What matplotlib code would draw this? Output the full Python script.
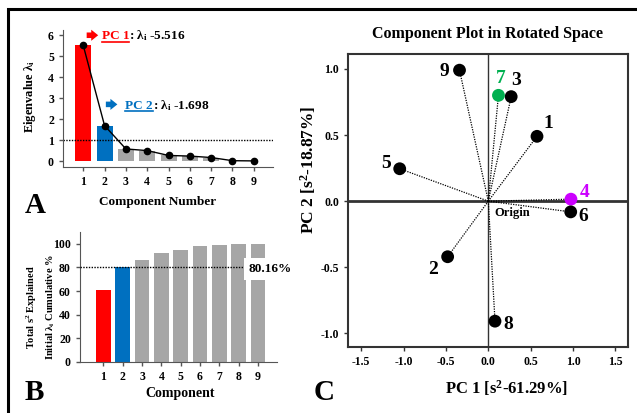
import numpy as np
import matplotlib
matplotlib.use('Agg')
import matplotlib.pyplot as plt
from matplotlib.patches import Rectangle
from matplotlib.lines import Line2D

plt.rcParams['font.family'] = ['Liberation Serif', 'DejaVu Sans']
plt.rcParams['font.weight'] = 'bold'
plt.rcParams['axes.labelweight'] = 'bold'
plt.rcParams['mathtext.fontset'] = 'custom'
plt.rcParams['mathtext.rm'] = 'Liberation Serif:bold'
plt.rcParams['mathtext.it'] = 'Liberation Serif:bold'
plt.rcParams['mathtext.bf'] = 'Liberation Serif:bold'

# data
components = [1, 2, 3, 4, 5, 6, 7, 8, 9]
eigenvalues = [5.516, 1.698, 0.59, 0.51, 0.28, 0.25, 0.18, 0.03, 0.02]
cumulative_pct = [61.29, 80.16, 86.6, 92.3, 95.1, 98.0, 99.4, 100.0, 100.0]
point_labels = ['1', '2', '3', '4', '5', '6', '7', '8', '9']
pc1_loadings = [0.575, -0.48, 0.27, 0.976, -1.046, 0.973, 0.12, 0.079, -0.34]
pc2_loadings = [0.49, -0.42, 0.79, 0.015, 0.245, -0.081, 0.80, -0.907, 0.99]

W, H = 637, 413
RED, BLUE, GRAY = '#ff0000', '#0070c0', '#a6a6a6'


def px(x, y):
    return x / W, 1 - y / H


def axes_px(x0, y0, x1, y1):
    return fig.add_axes([x0 / W, 1 - y1 / H, (x1 - x0) / W, (y1 - y0) / H])


fig = plt.figure(figsize=(W / 100, H / 100), dpi=100)

# frame around the whole figure
fig.patches.append(Rectangle(px(7.5, 440), 1.2, (440 - 8.5) / H, transform=fig.transFigure,
                             fill=False, edgecolor='black', linewidth=2.2))

bar_colors = [RED, BLUE] + [GRAY] * 7
TICK = 8.5

# ---- Panel A: scree plot ----
axA = axes_px(63, 30, 273, 167)
axA.bar(components, eigenvalues, width=0.75, color=bar_colors)
axA.plot(components, eigenvalues, color='black', lw=1, marker='o', ms=4.5)
axA.axhline(1, color='black', ls=(0, (1, 1)), lw=1)
axA.set_xlim(0.05, 9.9)
axA.set_ylim(-0.27, 6.25)
axA.set_xticks(components)
axA.set_yticks(range(7))
for s in ['top', 'right']:
    axA.spines[s].set_visible(False)
for s in ['left', 'bottom']:
    axA.spines[s].set_color('#555555')
axA.tick_params(labelsize=TICK, length=3, width=1, color='#555555')

# annotations with arrows
arrow_style = 'simple,head_width=0.8,head_length=0.5,tail_width=0.4'
axA.annotate('', xy=(1.7, 6.0), xytext=(1.16, 6.0),
             arrowprops=dict(arrowstyle=arrow_style, color=RED, lw=0, mutation_scale=10,
                             shrinkA=0, shrinkB=0))
axA.annotate('', xy=(2.6, 2.71), xytext=(2.06, 2.71),
             arrowprops=dict(arrowstyle=arrow_style, color=BLUE, lw=0, mutation_scale=10,
                             shrinkA=0, shrinkB=0))
red1 = axA.text(1.86, 5.8, 'PC 1', color=RED, fontsize=9.5, ha='left', va='baseline')
blue2 = axA.text(2.96, 2.5, 'PC 2', color=BLUE, fontsize=9.5, ha='left', va='baseline')
rest_text = {red1: ': \u03bb$_{\\rm i}$ -5.516', blue2: ': \u03bb$_{\\rm i}$ -1.698'}

fig.text(*px(30, 97), 'Eigenvalue \u03bb$_{\\rm i}$', rotation=90, fontsize=9, ha='center', va='center')
fig.text(*px(158, 202), 'Component Number', fontsize=9.5, ha='center', va='center')

# ---- Panel B: cumulative variance ----
axB = axes_px(80, 232, 277, 362)
axB.bar(components, cumulative_pct, width=0.75, color=bar_colors)
axB.axhline(cumulative_pct[1], color='black', ls=(0, (1, 1)), lw=1, zorder=3)
axB.text(8.51, 78.7, f'{cumulative_pct[1]:.2f}%', fontsize=9.5, ha='left', va='center', zorder=4,
         clip_on=False, bbox=dict(facecolor='white', edgecolor='none', pad=3.5))
axB.set_xlim(-0.21, 9.98)
axB.set_ylim(0, 110)
axB.set_xticks(components)
axB.set_yticks(range(0, 101, 20))
for s in ['top', 'right']:
    axB.spines[s].set_visible(False)
for s in ['left', 'bottom']:
    axB.spines[s].set_color('#555555')
axB.tick_params(labelsize=TICK, length=3, width=1, color='#555555')

fig.text(*px(32, 307), 'Total s$^2$ Explained', rotation=90, fontsize=7.5, ha='center', va='center')
fig.text(*px(51, 307), 'Initial \u03bb$_{\\rm i}$ Cumulative %', rotation=90, fontsize=7.5, ha='center', va='center')
fig.text(*px(180, 393), 'Component', fontsize=10, ha='center', va='center')

# ---- Panel C: component plot ----
axC = axes_px(348.3, 54.3, 628.3, 346.7)
axC.axhline(0, color='#333333', lw=2, zorder=1)
axC.axvline(0, color='#333333', lw=1, zorder=1)
point_colors = ['black'] * 9
point_colors[6] = '#00b050'
point_colors[3] = '#cc00ff'
for x, y in zip(pc1_loadings, pc2_loadings):
    axC.plot([0, x], [0, y], color='black', ls=(0, (1, 1)), lw=0.9, zorder=2)
axC.scatter(pc1_loadings, pc2_loadings, s=85, c=point_colors, zorder=3, linewidths=0)

label_offsets = {'1': (11, 13), '2': (-15, -13), '3': (5, 16), '4': (14, 7), '5': (-14, 5),
                 '6': (13, -5), '7': (2, 17), '8': (13, -3), '9': (-15, -1)}
for lab, x, y, c in zip(point_labels, pc1_loadings, pc2_loadings, point_colors):
    axC.annotate(lab, (x, y), xytext=label_offsets[lab], textcoords='offset pixels',
                 fontsize=14, color=c, ha='center', va='center')
axC.text(0.07, -0.045, 'Origin', fontsize=9, ha='left', va='top')

axC.set_xlim(-1.653, 1.653)
axC.set_ylim(-1.10, 1.11)
axC.set_xticks([-1.5, -1.0, -0.5, 0.0, 0.5, 1.0, 1.5])
axC.set_yticks([-1.0, -0.5, 0.0, 0.5, 1.0])
axC.xaxis.set_major_formatter(matplotlib.ticker.FormatStrFormatter('%.1f'))
axC.yaxis.set_major_formatter(matplotlib.ticker.FormatStrFormatter('%.1f'))
for s in axC.spines.values():
    s.set_linewidth(1.5)
    s.set_color('#333333')
axC.tick_params(labelsize=TICK, length=3, width=1, color='#333333')

fig.text(*px(488, 34), 'Component Plot in Rotated Space', fontsize=11.5, ha='center', va='center')
fig.text(*px(506, 388), 'PC 1 [s$^2$-61.29%]', fontsize=12, ha='center', va='center')
fig.text(*px(308, 170), 'PC 2 [s$^2$-18.87%]', rotation=90, fontsize=12.5, ha='center', va='center')

# panel letters
fig.text(*px(35, 205), 'A', fontsize=21, ha='center', va='center')
fig.text(*px(34, 393), 'B', fontsize=21, ha='center', va='center')
fig.text(*px(324, 393), 'C', fontsize=21, ha='center', va='center')

# underline the PC labels and append the eigenvalue text right after them
fig.canvas.draw()
renderer = fig.canvas.get_renderer()
for t, col in [(red1, RED), (blue2, BLUE)]:
    bb = t.get_window_extent(renderer)
    base_disp = axA.transData.transform(t.get_position())[1]
    xd = axA.transData.inverted().transform((bb.x1, base_disp))[0]
    axA.text(xd, t.get_position()[1], rest_text[t], fontsize=9.5, ha='left', va='baseline')
    ul = base_disp - 2.5
    fig.add_artist(Line2D([bb.x0 / W, bb.x1 / W], [ul / H, ul / H], transform=fig.transFigure,
                          color=col, lw=1.2))

fig.savefig('out.png', dpi=100)
